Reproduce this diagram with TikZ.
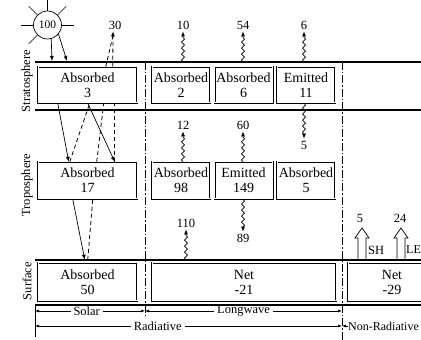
\documentclass[tikz,border=0pt]{standalone}
\usepackage{fontspec}
\setmainfont{Liberation Serif}
\usetikzlibrary{arrows.meta,decorations.pathmorphing,calc}

\begin{document}
\begin{tikzpicture}[x=1pt, y=1pt, font=\fontsize{12.5}{13}\selectfont,
    box/.style={draw, double, double distance=1pt, line width=0.5pt, inner sep=1pt,
                align=center, font=\fontsize{14}{15}\selectfont},
    num/.style={inner sep=2pt},
    layer/.style={line width=1.1pt},
    divider/.style={line width=0.9pt, dash pattern=on 8pt off 2pt on 1.5pt off 2pt},
    solar/.style={line width=0.7pt, -{Latex[length=5pt, width=4pt]}},
    reflect/.style={line width=0.8pt, dash pattern=on 4pt off 3pt},
    wave/.style={line width=0.7pt, -{Latex[length=5pt, width=4pt]}, decorate,
                 decoration={snake, amplitude=1.6pt, segment length=6pt, post length=4pt}},
    hollow/.style={line width=0.7pt},
    gaptext/.style={fill=white, inner xsep=3pt, inner ysep=0pt},
    dim/.style={line width=0.7pt, {Latex[length=4pt, width=3pt]}-{Latex[length=4pt, width=3pt]}}]
  \useasboundingbox (0,0) rectangle (421,340);
  \clip (0,0) rectangle (421,340);

  % layers
  \coordinate (top) at (35,278);
  \coordinate (mid) at (35,230);
  \coordinate (surf) at (35,80);
  \coordinate (base) at (35,35);
  \foreach \c in {top, mid, surf, base}
    \draw[layer] (\c) -- ++(400,0);
  \draw[divider] (145,278) -- (145,22);
  \draw[divider] (342,278) -- (342,0);
  \draw[line width=0.7pt] (base) -- (35,3);

  \node[rotate=90] (lStrat) at (27,259) {Stratosphere};
  \node[rotate=90] (lTrop) at (27,155) {Troposphere};
  \node[rotate=90] (lSurf) at (27,59) {Surface};

  % boxes
  \node[box, minimum width=99pt, minimum height=36pt] (sAbs) at (87.5,255) {Absorbed\\3};
  \node[box, minimum width=58pt, minimum height=36pt] (sAbs2) at (181,255) {Absorbed\\2};
  \node[box, minimum width=58pt, minimum height=36pt] (sAbs6) at (243.5,255) {Absorbed\\6};
  \node[box, minimum width=58pt, minimum height=36pt] (sEmit) at (306,255) {Emitted\\11};
  \node[box, minimum width=99pt, minimum height=37pt] (tAbs) at (87.5,159.5) {Absorbed\\17};
  \node[box, minimum width=58pt, minimum height=37pt] (tAbs98) at (181,159.5) {Absorbed\\98};
  \node[box, minimum width=58pt, minimum height=37pt] (tEmit) at (243.5,159.5) {Emitted\\149};
  \node[box, minimum width=58pt, minimum height=37pt] (tAbs5) at (306,159.5) {Absorbed\\5};
  \node[box, minimum width=99pt, minimum height=38pt] (fAbs) at (87.5,58) {Absorbed\\50};
  \node[box, minimum width=184pt, minimum height=38pt] (fNet) at (244,58) {Net\\-21};
  \node[box, minimum width=88pt, minimum height=38pt] (fNon) at (392,58) {Net\\-29};

  % sun and solar
  \node[circle, draw, line width=0.7pt, minimum size=28pt, inner sep=0pt,
        font=\fontsize{11.5}{12}\selectfont] (sun) at (47.5,315) {100};
  \foreach \a in {0,45,90,135,180,225}
    \draw[line width=0.7pt] (sun.\a) -- ++(\a:12);
  \coordinate (in1) at (52,279);
  \coordinate (in2) at (67,279);
  \draw[solar] (sun.285) -- (in1);
  \draw[solar] (sun.320) -- (in2);
  \draw[solar] ($(sAbs.south west)+(20,0)$) -- ($(tAbs.north west)+(31,0)$);
  \draw[solar] ($(sAbs.south west)+(50,0)$) -- ($(tAbs.north west)+(77,0)$);
  \draw[solar] ($(tAbs.south west)+(35,0)$) -- ($(fAbs.north west)+(47,3)$);

  % reflected
  \node[num] (n30) at (115,315) {30};
  \draw[reflect] ($(fAbs.north west)+(50,3)$) -- ($(tAbs.south west)+(55,0)$);
  \draw[reflect] ($(tAbs.north west)+(32,0)$) -- ($(sAbs.south west)+(52,0)$);
  \draw[reflect] ($(tAbs.north west)+(59,0)$) -- ($(sAbs.south west)+(66,0)$);
  \draw[reflect] ($(tAbs.north west)+(77,0)$) -- ($(sAbs.south west)+(77,0)$);
  \draw[reflect] ($(sAbs.north west)+(68,0)$) -- ($(n30.south)+(-2,-4)$);
  \draw[reflect, -{Latex[length=5pt, width=4pt]}] ($(sAbs.north west)+(75,0)$) -- ($(n30.south)+(-2,0)$);

  % longwave
  \node[num] (n10) at (183,315) {10};
  \node[num] (n54) at (243,315) {54};
  \node[num] (n6) at (304,315) {6};
  \node[num] (n12) at (183,215) {12};
  \node[num] (n60) at (243,215) {60};
  \node[num] (n5) at (304,195) {5};
  \node[num] (n110) at (186,117) {110};
  \node[num] (n89) at (243,102) {89};
  \draw[wave] (top -| n10) -- (n10.south);
  \draw[wave] (top -| n54) -- (n54.south);
  \draw[wave] (top -| n6) -- (n6.south);
  \draw[wave] (tAbs98.north -| n12) -- (n12.south);
  \draw[wave] (tEmit.north -| n60) -- (n60.south);
  \draw[wave] (sEmit.south -| n5) -- (n5.north);
  \draw[wave] (surf -| n110) -- (n110.south);
  \draw[wave] (tEmit.south -| n89) -- (n89.north);

  % non-radiative
  \coordinate (sh) at (362,80);
  \coordinate (le) at (401,80);
  \foreach \c in {sh, le}
    \draw[hollow] (\c) ++(-4,0) -- ++(0,22) -- ++(-3,0) -- ++(7,10)
      -- ++(7,-10) -- ++(-3,0) -- ++(0,-22);
  \node[num] (nSH) at (360,122) {5};
  \node[num] (nLE) at (400,122) {24};
  \node[anchor=west, inner sep=0pt] (tSH) at (368,90) {SH};
  \node[anchor=west, inner sep=0pt, font=\fontsize{12}{13}\selectfont] (tLE) at (406,90) {LE};

  % ranges
  \draw[dim] (35,29) -- node[pos=0.47, gaptext] (lSolar) {Solar} (145,29);
  \draw[dim] (145,29) -- node[pos=0.5, gaptext] (lLong) {Longwave} (342,29);
  \draw[dim] (35,14) -- node[pos=0.4, gaptext] (lRad) {Radiative} (342,14);
  \node[anchor=west, inner sep=0pt, font=\fontsize{12}{13}\selectfont] (lNon) at (348,14) {Non-Radiative};
  \draw[line width=0.7pt, -{Latex[length=4pt, width=3pt]}] (lNon.west) -- (342,14);
\end{tikzpicture}
\end{document}
